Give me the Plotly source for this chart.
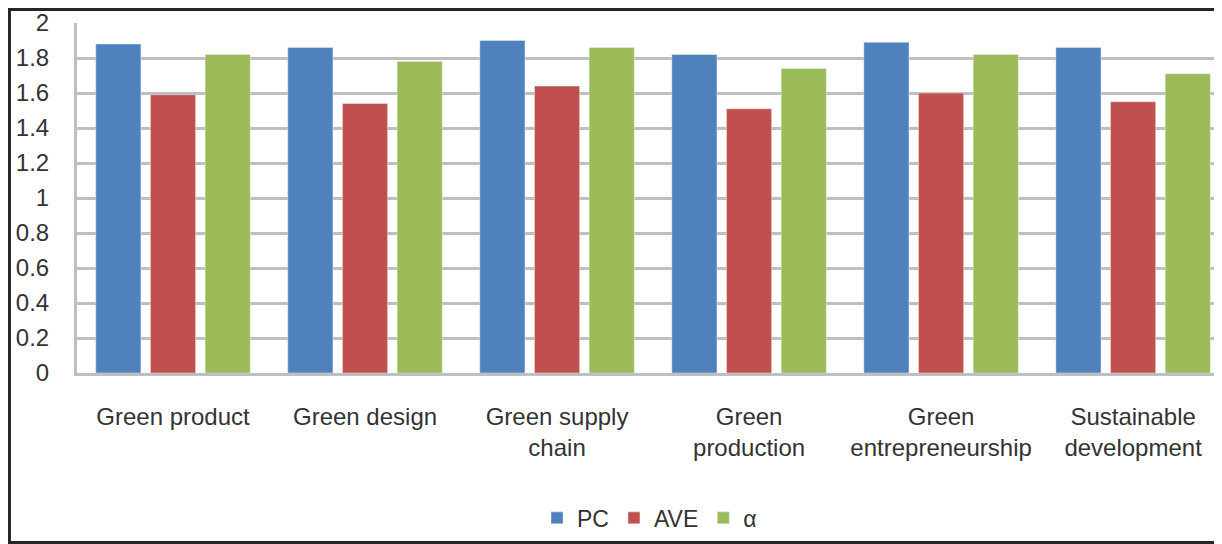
import plotly.graph_objects as go

# Categorías y valores
categories = ['Green product', 'Green design', 'Green supply<br>chain',
              'Green<br>production', 'Green<br>entrepreneurship',
              'Sustainable<br>development']
pc_values = [1.88, 1.86, 1.90, 1.82, 1.89, 1.86]
ave_values = [1.59, 1.54, 1.64, 1.51, 1.60, 1.55]
alpha_values = [1.82, 1.78, 1.86, 1.74, 1.82, 1.71]

COLORS = {
    'pc': '#4F81BD',
    'ave': '#C0504D',
    'alpha': '#9BBB59',
    'grid': '#BFBFBF',
    'text': '#333333',
}
FONT = 'Liberation Sans, Arial, sans-serif'

fig = go.Figure()
x_idx = list(range(len(categories)))

fig.add_trace(go.Bar(name='PC', x=x_idx, y=pc_values, marker_color=COLORS['pc']))
fig.add_trace(go.Bar(name='AVE', x=x_idx, y=ave_values, marker_color=COLORS['ave']))
fig.add_trace(go.Bar(name='α', x=x_idx, y=alpha_values, marker_color=COLORS['alpha']))

# la página html añade 8px de margen al body, se compensa en el tamaño
fig.update_layout(
    width=1214,
    height=536,
    margin=dict(l=69, r=0, t=15, b=171),
    barmode='group',
    bargap=0.146,
    bargroupgap=0.174,
    plot_bgcolor='white',
    paper_bgcolor='white',
    font=dict(family=FONT, size=24, color=COLORS['text']),
    showlegend=True,
    legend=dict(
        orientation='h',
        x=0.5, xanchor='center',
        y=-0.414, yanchor='middle',
        font=dict(size=23),
        itemwidth=30,
        traceorder='normal',
    ),
)

fig.update_xaxes(
    range=[-0.5, 5.463],
    tickmode='array',
    tickvals=x_idx,
    ticktext=categories,
    ticks='outside',
    ticklen=20,
    tickcolor='rgba(0,0,0,0)',
    showgrid=False,
    showline=True,
    linecolor=COLORS['grid'],
    linewidth=3,
    tickfont=dict(size=24),
)
fig.update_yaxes(
    range=[0, 2],
    dtick=0.2,
    tickformat='~g',
    ticks='outside',
    ticklen=20,
    tickcolor='rgba(0,0,0,0)',
    showgrid=True,
    gridcolor=COLORS['grid'],
    gridwidth=3,
    zeroline=False,
    showline=True,
    linecolor=COLORS['grid'],
    linewidth=3,
    tickfont=dict(size=24),
)

# Marco exterior del gráfico
fig.add_shape(
    type='rect', xref='paper', yref='paper',
    x0=-0.059, x1=1.02, y0=-0.4843, y1=1.0386,
    line=dict(color='#262626', width=3),
    fillcolor='rgba(0,0,0,0)',
)

fig.write_html('out.html')
